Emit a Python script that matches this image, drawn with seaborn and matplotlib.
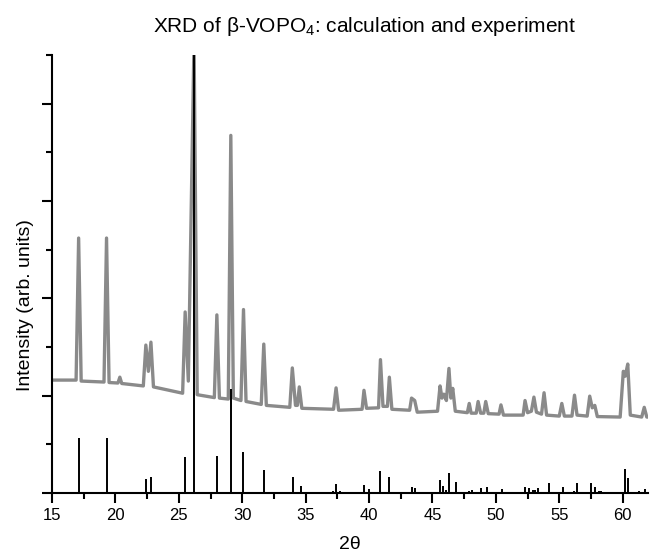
import matplotlib
matplotlib.use("Agg")
import matplotlib.pyplot as plt
from matplotlib.ticker import MultipleLocator
import numpy as np
import pandas as pd
import seaborn as sns

exp_2theta = [15.0, 16.9, 17.1, 17.3, 19.1, 19.3, 19.5, 20.2, 20.35, 20.5,
              22.2, 22.4, 22.6, 22.8, 23.0, 25.3, 25.5, 25.75, 26.2, 26.45,
              27.8, 28.0, 28.2, 28.9, 29.1, 29.3, 29.9, 30.1, 30.3, 31.5,
              31.7, 31.9, 33.75, 33.95, 34.2, 34.35, 34.5, 34.7, 37.2, 37.4,
              37.6, 39.45, 39.6, 39.8, 40.75, 40.9, 41.1, 41.45, 41.6, 41.8,
              43.2, 43.35, 43.6, 43.8, 45.4, 45.6, 45.75, 45.9, 46.1, 46.3,
              46.45, 46.6, 46.8, 47.75, 47.9, 48.05, 48.45, 48.6, 48.8, 49.05,
              49.2, 49.4, 50.25, 50.4, 50.6, 52.15, 52.3, 52.5, 52.8, 53.0,
              53.2, 53.6, 53.8, 54.0, 55.0, 55.2, 55.4, 56.0, 56.2, 56.4,
              57.2, 57.4, 57.6, 57.8, 58.0, 59.8, 60.05, 60.2, 60.4, 60.6,
              61.5, 61.7, 61.9, 62.0]
exp_intensity = [2.32, 2.32, 5.24, 2.30, 2.28, 5.24, 2.27, 2.26, 2.38, 2.25,
                 2.20, 3.04, 2.50, 3.10, 2.18, 2.05, 3.72, 2.30, 9.30, 2.02,
                 1.96, 3.66, 1.95, 1.93, 7.35, 1.95, 1.90, 3.77, 1.88, 1.82,
                 3.06, 1.80, 1.76, 2.57, 1.80, 1.80, 2.18, 1.74, 1.72, 2.16,
                 1.70, 1.72, 2.11, 1.74, 1.75, 2.74, 1.78, 1.78, 2.38, 1.72,
                 1.70, 1.95, 1.90, 1.66, 1.68, 2.20, 1.95, 2.03, 1.90, 2.56,
                 1.95, 2.15, 1.68, 1.65, 1.84, 1.64, 1.64, 1.88, 1.64, 1.64,
                 1.88, 1.63, 1.62, 1.81, 1.60, 1.60, 1.90, 1.65, 1.68, 1.97,
                 1.66, 1.62, 2.06, 1.60, 1.58, 1.84, 1.58, 1.58, 2.01, 1.60,
                 1.58, 1.99, 1.75, 1.80, 1.57, 1.56, 2.50, 2.40, 2.65, 1.60,
                 1.56, 1.76, 1.56, 1.56]

# calculated stick pattern
calc_2theta = [17.1, 19.3, 22.4, 22.8, 25.5, 26.2, 28.0, 29.1, 30.1, 31.7,
               34.0, 34.6, 37.16, 37.4, 37.7, 39.6, 39.96, 40.9, 41.6, 43.37,
               43.6, 45.6, 45.86, 46.1, 46.3, 46.85, 47.9, 48.1, 48.8, 49.3,
               50.5, 52.3, 52.6, 52.9, 53.1, 53.35, 54.2, 55.3, 56.2, 56.4,
               57.5, 57.8, 58.1, 58.3, 60.2, 60.4, 61.3, 61.75]
calc_intensity = [1.13, 1.13, 0.29, 0.33, 0.74, 9.5, 0.76, 2.14, 0.84, 0.48,
                  0.33, 0.14, 0.05, 0.18, 0.04, 0.16, 0.08, 0.46, 0.33, 0.13,
                  0.10, 0.27, 0.15, 0.07, 0.41, 0.23, 0.04, 0.06, 0.10, 0.13,
                  0.08, 0.12, 0.10, 0.07, 0.06, 0.10, 0.21, 0.12, 0.03, 0.21,
                  0.20, 0.13, 0.04, 0.03, 0.49, 0.31, 0.03, 0.08]

sns.set_theme(style="ticks")
plt.rcParams['font.family'] = ['Liberation Sans', 'DejaVu Sans']
plt.rcParams['mathtext.default'] = 'regular'

exp_df = pd.DataFrame({"2theta": exp_2theta, "Intensity": exp_intensity})

fig = plt.figure(figsize=(6.5, 5.57), dpi=100)
ax = fig.add_axes([0.08, 0.115, 0.917, 0.786])

sns.lineplot(data=exp_df, x="2theta", y="Intensity", ax=ax, color="#8a8a8a",
             linewidth=2.4, zorder=2)
ax.vlines(calc_2theta, 0, calc_intensity, colors="black", linewidth=1.4, zorder=3)

ax.set_xlim(15, 62)
ax.set_ylim(0, 9)
ax.xaxis.set_major_locator(MultipleLocator(5))
ax.xaxis.set_minor_locator(MultipleLocator(2.5))
ax.yaxis.set_major_locator(MultipleLocator(2))
ax.yaxis.set_minor_locator(MultipleLocator(1))
ax.tick_params(axis="both", which="major", direction="out", length=7.5, width=1.5,
               color="black", labelsize=12, labelcolor="black", pad=3)
ax.tick_params(axis="both", which="minor", direction="out", length=4.5, width=1.5,
               color="black")
ax.tick_params(axis="y", which="both", labelleft=False)
sns.despine(ax=ax)
for s in ["left", "bottom"]:
    ax.spines[s].set_linewidth(1.5)
    ax.spines[s].set_color("black")

ax.set_xlabel("2θ", fontsize=14, color="black", labelpad=10)
ax.set_ylabel("Intensity (arb. units)", fontsize=14, color="black")
ax.yaxis.set_label_coords(-0.03, 0.43)
ax.set_title("XRD of β-VOPO$_4$: calculation and experiment", fontsize=15,
             color="black", x=0.524, pad=17)

plt.savefig("out.png", dpi=100)
